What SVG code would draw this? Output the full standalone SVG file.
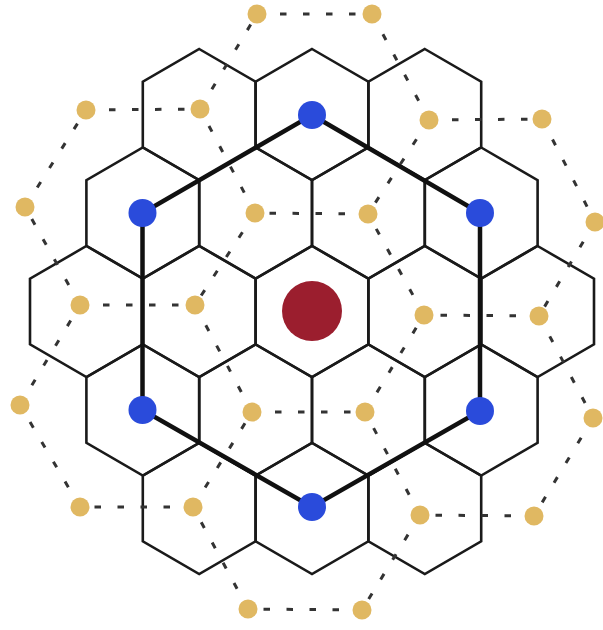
<svg xmlns="http://www.w3.org/2000/svg" xmlns:xlink="http://www.w3.org/1999/xlink" width="603" height="630" viewBox="0 0 603 630">
<style>
.hex{fill:none;stroke:#1a1a1a;stroke-width:2.6;stroke-linejoin:miter}
.thick{fill:none;stroke:#111;stroke-width:4.5;stroke-linejoin:miter}
.dash{fill:none;stroke:#333;stroke-width:3;stroke-dasharray:6.5 16.5}
.y{fill:#e0b862}
.b{fill:#2a4bdb}
.r{fill:#9b1e2e}
</style>
<defs>
<polygon id="hx" points="0,-65.5 56.4,-32.75 56.4,32.75 0,65.5 -56.4,32.75 -56.4,-32.75"/>
</defs>
<rect width="603" height="630" fill="#fff"/>
<g id="grid">
<g id="hex-r0c0"><use href="#hx" class="hex" x="199.2" y="114.5"/></g>
<g id="hex-r0c1"><use href="#hx" class="hex" x="312" y="114.5"/></g>
<g id="hex-r0c2"><use href="#hx" class="hex" x="424.8" y="114.5"/></g>
<g id="hex-r1c0"><use href="#hx" class="hex" x="142.8" y="213"/></g>
<g id="hex-r1c1"><use href="#hx" class="hex" x="255.6" y="213"/></g>
<g id="hex-r1c2"><use href="#hx" class="hex" x="368.4" y="213"/></g>
<g id="hex-r1c3"><use href="#hx" class="hex" x="481.2" y="213"/></g>
<g id="hex-r2c0"><use href="#hx" class="hex" x="86.4" y="311.5"/></g>
<g id="hex-r2c1"><use href="#hx" class="hex" x="199.2" y="311.5"/></g>
<g id="hex-r2c2"><use href="#hx" class="hex" x="312" y="311.5"/></g>
<g id="hex-r2c3"><use href="#hx" class="hex" x="424.8" y="311.5"/></g>
<g id="hex-r2c4"><use href="#hx" class="hex" x="537.6" y="311.5"/></g>
<g id="hex-r3c0"><use href="#hx" class="hex" x="142.8" y="410"/></g>
<g id="hex-r3c1"><use href="#hx" class="hex" x="255.6" y="410"/></g>
<g id="hex-r3c2"><use href="#hx" class="hex" x="368.4" y="410"/></g>
<g id="hex-r3c3"><use href="#hx" class="hex" x="481.2" y="410"/></g>
<g id="hex-r4c0"><use href="#hx" class="hex" x="199.2" y="508.5"/></g>
<g id="hex-r4c1"><use href="#hx" class="hex" x="312" y="508.5"/></g>
<g id="hex-r4c2"><use href="#hx" class="hex" x="424.8" y="508.5"/></g>
</g>
<g id="connectors">
<polygon class="thick" points="312,115 480,213 480,411 312,507 142.5,410 142.5,213"/>
<path class="dash" d="M257,14 L372,14"/>
<path class="dash" d="M372,14 L429,120"/>
<path class="dash" d="M429,120 L368,214"/>
<path class="dash" d="M368,214 L255,213"/>
<path class="dash" d="M255,213 L200,109"/>
<path class="dash" d="M200,109 L257,14"/>
<path class="dash" d="M429,120 L542,119"/>
<path class="dash" d="M542,119 L595,222"/>
<path class="dash" d="M595,222 L539,316"/>
<path class="dash" d="M539,316 L424,315"/>
<path class="dash" d="M424,315 L368,214"/>
<path class="dash" d="M539,316 L593,418"/>
<path class="dash" d="M593,418 L534,516"/>
<path class="dash" d="M534,516 L420,515"/>
<path class="dash" d="M420,515 L365,412"/>
<path class="dash" d="M365,412 L424,315"/>
<path class="dash" d="M252,412 L365,412"/>
<path class="dash" d="M420,515 L362,610"/>
<path class="dash" d="M362,610 L248,609"/>
<path class="dash" d="M248,609 L193,507"/>
<path class="dash" d="M193,507 L252,412"/>
<path class="dash" d="M80,305 L195,305"/>
<path class="dash" d="M195,305 L252,412"/>
<path class="dash" d="M193,507 L80,507"/>
<path class="dash" d="M80,507 L20,405"/>
<path class="dash" d="M20,405 L80,305"/>
<path class="dash" d="M86,110 L200,109"/>
<path class="dash" d="M255,213 L195,305"/>
<path class="dash" d="M80,305 L25,207"/>
<path class="dash" d="M25,207 L86,110"/>
</g>
<g id="dots-yellow">
<g id="yA"><circle class="y" cx="257" cy="14" r="9.5"/></g>
<g id="yB"><circle class="y" cx="372" cy="14" r="9.5"/></g>
<g id="yC"><circle class="y" cx="429" cy="120" r="9.5"/></g>
<g id="yD"><circle class="y" cx="368" cy="214" r="9.5"/></g>
<g id="yE"><circle class="y" cx="255" cy="213" r="9.5"/></g>
<g id="yF"><circle class="y" cx="200" cy="109" r="9.5"/></g>
<g id="yG"><circle class="y" cx="542" cy="119" r="9.5"/></g>
<g id="yH"><circle class="y" cx="595" cy="222" r="9.5"/></g>
<g id="yI"><circle class="y" cx="539" cy="316" r="9.5"/></g>
<g id="yJ"><circle class="y" cx="424" cy="315" r="9.5"/></g>
<g id="yK"><circle class="y" cx="593" cy="418" r="9.5"/></g>
<g id="yL"><circle class="y" cx="534" cy="516" r="9.5"/></g>
<g id="yM"><circle class="y" cx="420" cy="515" r="9.5"/></g>
<g id="yN"><circle class="y" cx="365" cy="412" r="9.5"/></g>
<g id="yO"><circle class="y" cx="252" cy="412" r="9.5"/></g>
<g id="yP"><circle class="y" cx="362" cy="610" r="9.5"/></g>
<g id="yQ"><circle class="y" cx="248" cy="609" r="9.5"/></g>
<g id="yR"><circle class="y" cx="193" cy="507" r="9.5"/></g>
<g id="yS"><circle class="y" cx="80" cy="305" r="9.5"/></g>
<g id="yT"><circle class="y" cx="195" cy="305" r="9.5"/></g>
<g id="yU"><circle class="y" cx="80" cy="507" r="9.5"/></g>
<g id="yV"><circle class="y" cx="20" cy="405" r="9.5"/></g>
<g id="yW"><circle class="y" cx="86" cy="110" r="9.5"/></g>
<g id="yX"><circle class="y" cx="25" cy="207" r="9.5"/></g>
</g>
<g id="dots-blue">
<g id="b1"><circle class="b" cx="312" cy="115" r="14"/></g>
<g id="b2"><circle class="b" cx="480" cy="213" r="14"/></g>
<g id="b3"><circle class="b" cx="480" cy="411" r="14"/></g>
<g id="b4"><circle class="b" cx="312" cy="507" r="14"/></g>
<g id="b5"><circle class="b" cx="142.5" cy="410" r="14"/></g>
<g id="b6"><circle class="b" cx="142.5" cy="213" r="14"/></g>
</g>
<g id="center"><circle class="r" cx="312" cy="311" r="30"/></g>
</svg>
